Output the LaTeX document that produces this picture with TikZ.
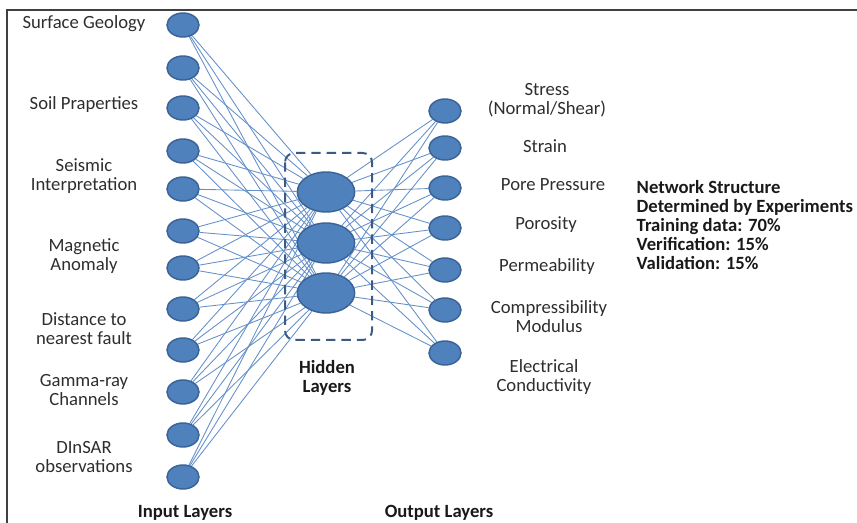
\documentclass[tikz,border=0pt]{standalone}
\usepackage{fontspec}
\setmainfont{Carlito}
\usetikzlibrary{shapes,backgrounds}
\definecolor{nodeblue}{HTML}{4F81BD}
\definecolor{nodeedge}{HTML}{3A6397}
\definecolor{linkblue}{HTML}{6590C9}
\definecolor{boxblue}{HTML}{3B5B86}
\definecolor{textgray}{HTML}{2E2E2E}
\tikzstyle{neuron} = [ellipse, draw=nodeedge, fill=nodeblue, line width=1.1pt,
    minimum width=24pt, minimum height=18pt, inner sep=0pt]
\tikzstyle{hidden} = [neuron, minimum width=43pt, minimum height=30pt]
\tikzstyle{link} = [draw=linkblue, line width=0.65pt]
\tikzstyle{feature} = [align=center, text=textgray,
    font=\fontsize{14}{14.3}\selectfont]
\tikzstyle{heading} = [feature, text=black!90, font=\fontsize{14}{14.3}\selectfont\bfseries]
\tikzstyle{hidbox} = [draw=boxblue, line width=1.5pt, dash pattern=on 7pt off 4.5pt,
    rounded corners=7pt]

\begin{document}
\begin{tikzpicture}[x=0.75pt, y=-0.75pt]
\useasboundingbox (0,0) rectangle (857,523);
\draw[draw=black!75, line width=1.5pt] (7,523) -- (7,10) -- (857,10);
% neurons
\foreach \i/\y in {1/25,2/68,3/108,4/151,5/189,6/231,7/268,8/309,9/350,10/392,11/435,12/477}
  \node[neuron] (in\i) at (183,\y) {};
\foreach \i/\y in {1/192,2/243,3/293}
  \node[hidden] (hid\i) at (326,\y) {};
\foreach \i/\y in {1/111,2/148,3/188,4/228,5/270,6/310,7/353}
  \node[neuron] (out\i) at (445,\y) {};
% connections
\begin{scope}[on background layer]
\foreach \i in {1,...,12}
  \foreach \j in {1,2,3}
    \path[link] (in\i) -- (hid\j);
\foreach \j in {1,2,3}
  \foreach \k in {1,...,7}
    \path[link] (hid\j) -- (out\k);
\end{scope}
\draw[hidbox] (285,153) rectangle (372,340);
% input labels
\node[feature] (geology) at (84,24) {Surface Geology};
\node[feature] (soil) at (84,105) {Soil Praperties};
\node[feature] (seismic) at (84,176) {Seismic\\Interpretation};
\node[feature] (magnetic) at (84,256) {Magnetic\\Anomaly};
\node[feature] (fault) at (84,329) {Distance to\\nearest fault};
\node[feature] (gamma) at (84,390) {Gamma-ray\\Channels};
\node[feature] (insar) at (84,457) {DInSAR\\observations};
% output labels
\node[feature] (stress) at (547,100) {Stress\\(Normal/Shear)};
\node[feature] (strain) at (545,146) {Strain};
\node[feature] (pore) at (553,185) {Pore Pressure};
\node[feature] (poros) at (546,225) {Porosity};
\node[feature] (perm) at (547,267) {Permeability};
\node[feature] (compr) at (549,317) {Compressibility\\Modulus};
\node[feature] (elec) at (544,377) {Electrical\\Conductivity};
% layer titles
\node[heading] (inlayer) at (185,513) {Input Layers};
\node[heading] (hidlayer) at (327,378) {Hidden\\Layers};
\node[heading] (outlayer) at (439,513) {Output Layers};
\node[heading, align=left, anchor=west] (netinfo) at (632,225)
  {Network Structure\\Determined by Experiments\\Training data: 70\%\\Verification: 15\%\\Validation: 15\%};
\end{tikzpicture}
\end{document}
